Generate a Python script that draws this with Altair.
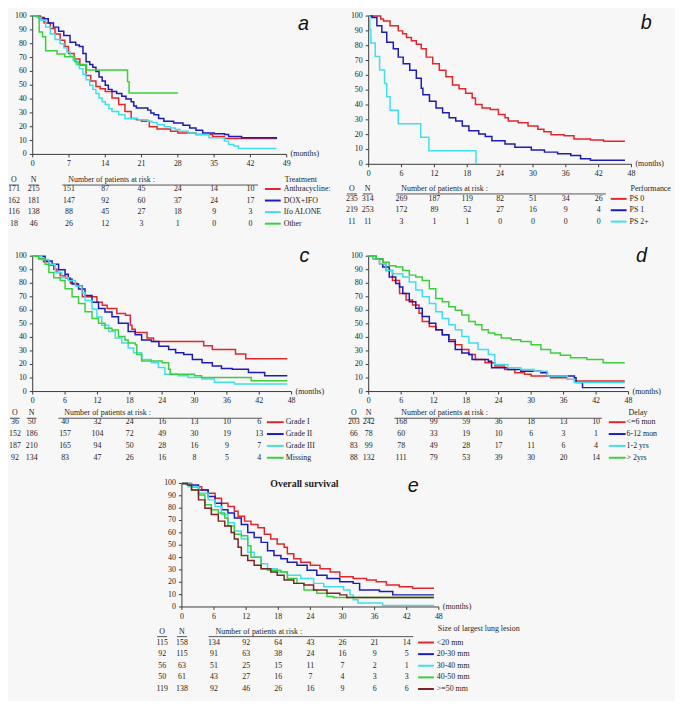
import altair as alt
import pandas as pd

BG = "#f7f7f7"
TXT = "#1e1e1e"
AX = "#3a3a3a"
RED = "#e3262b"
BLUE = "#1c1cb4"
CYAN = "#3fe0ee"
GREEN = "#3ccf3c"
BROWN = "#7a2424"
SERIF = "Liberation Serif"
SANS = "Liberation Sans"

# ---------------- panel a : Treatment ----------------
A_LABELS = ["Anthracycline:", "DOX+IFO", "Ifo ALONE", "Other"]
A_O = [171, 162, 116, 18]
A_N = [215, 181, 138, 46]
A_RISK_T = [7, 14, 21, 28, 35, 42]
A_RISK = [[151, 87, 45, 24, 14, 10],
          [147, 92, 60, 37, 24, 17],
          [88, 45, 27, 18, 9, 3],
          [26, 12, 3, 1, 0, 0]]
A_T_ANTH = [0, 1.5, 2.2, 3.4, 4.3, 5.3, 6.2, 6.9, 8, 9.1, 10.3, 11.2, 12.2, 13, 14, 15.3, 16.6, 17.8, 19, 20, 21, 22.5, 24, 26.6, 28, 31.5, 34.7, 37, 47]
A_S_ANTH = [100, 98, 95, 91, 87, 82.5, 78, 73, 69, 64.6, 57, 53, 49, 47.5, 45.5, 40.7, 36, 31, 26, 25, 24, 20, 18.4, 16.7, 15.5, 14.4, 13, 11.5, 11.2]
A_T_DOX = [0, 1.2, 2.2, 3, 4, 5, 6, 7.2, 8.3, 9, 9.7, 10.3, 11, 11.6, 12.2, 12.8, 13.4, 14, 14.6, 15.3, 16.2, 17.2, 18, 19, 19.5, 20, 22.2, 22.8, 23.4, 24.3, 25.3, 27.2, 29, 30.3, 31.5, 32.8, 35, 37, 37.8, 40.3, 47]
A_S_DOX = [100, 99, 98, 95, 92, 89, 86, 81, 79, 78, 73, 67, 65, 63, 60, 56, 53, 50, 47, 45.5, 44, 42, 40, 38, 35, 33.5, 32, 30, 28.7, 26, 24, 22.7, 21, 19, 17.5, 15.5, 15, 14.4, 13, 12, 11.2]
A_T_IFO = [0, 0.8, 1.6, 2.5, 3.4, 4.3, 5.3, 6, 6.6, 7.2, 7.8, 8.4, 9, 9.7, 10.3, 11, 11.6, 12.2, 12.8, 13.4, 14, 14.7, 15.3, 16.6, 17.8, 20.3, 22.2, 23, 24, 25.4, 26.6, 27.5, 28.4, 30, 31.5, 34, 37, 37.8, 38.8, 39.7, 47]
A_S_IFO = [100, 99, 97, 92, 87, 83, 80, 77, 74, 71, 68, 65, 62, 58, 54, 50, 47, 44, 40.7, 38, 36, 33, 31, 28.7, 26, 25, 24, 23, 21.5, 20, 19, 18, 16.7, 15.5, 14.4, 12, 9.6, 7.2, 6, 4.3, 4.3]
A_T_OTH = [0, 1.25, 1.9, 2.5, 4.7, 6.2, 8.1, 8.75, 10.4, 18.3, 18.6, 28]
A_S_OTH = [100, 88.5, 85, 75, 72.5, 70.6, 67, 65, 61, 52.6, 44.3, 44.3]

# ---------------- panel b : Performance ----------------
B_LABELS = ["PS 0", "PS 1", "PS 2+"]
B_O = [235, 219, 11]
B_N = [314, 253, 11]
B_RISK_T = [6, 12, 18, 24, 30, 36, 42]
B_RISK = [[269, 187, 119, 82, 51, 34, 26],
          [172, 89, 52, 27, 16, 9, 4],
          [3, 1, 1, 0, 0, 0, 0]]
B_T_PS0 = [0, 1.2, 2.2, 2.7, 3.9, 5.4, 6.2, 6.9, 7.8, 8.7, 9.6, 10.5, 11.7, 12.9, 14.1, 15.3, 16.5, 17.7, 18.9, 19.5, 20.7, 22.2, 23.7, 24.9, 25.5, 27.3, 29.1, 30.9, 32, 33.3, 35.7, 37.5, 40.5, 42.9, 46.8]
B_S_PS0 = [100, 100, 98, 96.7, 93.4, 90, 88, 85.6, 83.4, 81, 77.9, 72.3, 67.9, 63.5, 59, 53.5, 50.9, 48, 44.7, 40.3, 38, 37, 33.6, 31.4, 29.2, 28, 25.9, 23.7, 22, 19.9, 19.2, 17, 16.4, 15.5, 15.5]
B_T_PS1 = [0, 0.6, 1.5, 2.4, 3.3, 4.5, 5.4, 6.3, 7.5, 8.7, 9.6, 9.9, 11.1, 12.3, 13.5, 14.7, 15.9, 17.1, 18.3, 20.1, 21.3, 22.5, 24.9, 26.7, 29.7, 32.1, 34.5, 36.9, 38.7, 40.5, 46.8]
B_S_PS1 = [100, 99, 93.4, 89, 82.3, 77.9, 72.3, 67.9, 63.5, 58, 51.3, 46.9, 42.5, 38, 34.7, 31.4, 29.2, 25.9, 22.6, 20.4, 18.8, 15.9, 13.7, 11.5, 9.7, 8.2, 7.1, 6, 3.8, 2.7, 2.7]
B_T_PS2 = [0, 0.2, 0.4, 1.2, 2.0, 2.9, 3.3, 3.9, 5.4, 9.5, 11.0, 19.6]
B_S_PS2 = [100, 90.9, 81.8, 72.7, 63.6, 54.5, 45.5, 36.4, 27.3, 18.2, 9.1, 0]

# ---------------- panel c : Grade ----------------
C_LABELS = ["Grade I", "Grade II", "Grade III", "Missing"]
C_O = [36, 152, 187, 92]
C_N = [50, 186, 210, 134]
C_RISK_T = [6, 12, 18, 24, 30, 36, 42]
C_RISK = [[40, 32, 24, 16, 13, 10, 6],
          [157, 104, 72, 49, 30, 19, 13],
          [165, 94, 50, 28, 16, 9, 7],
          [83, 47, 26, 16, 8, 5, 4]]
C_T_G1 = [0, 1.1, 2.0, 3.0, 3.9, 4.5, 5.1, 6.1, 7.0, 8.2, 9.2, 11.9, 12.9, 13.8, 15.6, 17.2, 18.1, 18.4, 19.0, 21.2, 22.4, 31.7, 33.3, 37.6, 39.5, 47.2]
C_S_G1 = [100, 98.3, 95.9, 93.5, 90.3, 88, 85.5, 83.8, 80, 78.2, 70, 66, 63.7, 61.3, 57.6, 56.4, 49, 46, 43.6, 39.5, 37, 33.9, 31, 27.8, 24.2, 24.2]
C_T_G2 = [0, 1.1, 2.3, 3.6, 4.8, 6, 6.6, 7.3, 8.5, 9.7, 11, 12.2, 13.4, 14.7, 15.9, 17.7, 19, 20.2, 22, 23.4, 25.2, 26.5, 28, 29.6, 31.4, 33.3, 35, 37, 40, 43, 47.2]
C_S_G2 = [100, 100, 96.4, 94, 90, 86.7, 83, 79.4, 75.8, 71, 66, 61.3, 58.8, 55.2, 50.4, 44.3, 42, 38, 37, 33.4, 31, 28.6, 27.4, 23.7, 21.3, 18.9, 17, 16.5, 14, 11.6, 11.6]
C_T_G3 = [0, 1.1, 1.7, 3, 4.2, 5.4, 6.6, 7.9, 9.1, 9.7, 11, 11.9, 12.8, 14.1, 15.3, 16.5, 17.7, 18.7, 20.2, 22, 23.3, 24.5, 27, 28.8, 31.4, 33.7, 37.4, 47.2]
C_S_G3 = [100, 100, 97.6, 94, 88, 84, 82, 78, 73, 67.3, 61, 55, 49, 44.3, 39.5, 35.8, 32.2, 28.6, 23.7, 21.3, 17.7, 12.8, 11.6, 10.4, 9.2, 6.8, 5.6, 5.6]
C_T_MIS = [0, 1.1, 2.3, 3, 3.9, 5.1, 6, 7.3, 8.5, 9.7, 11, 12.2, 13.4, 14.7, 15.9, 17.1, 17.7, 19, 19.3, 20.2, 24, 25.2, 25.5, 30, 31.3, 40.2, 40.5, 47.2]
C_S_MIS = [100, 98, 94, 88, 84, 82, 76, 70, 65, 59, 54, 50.4, 46.7, 45.5, 40.7, 38, 35.8, 34.6, 27.4, 22.5, 21.3, 16.5, 12.8, 11.6, 10.4, 10.4, 8, 8]

# ---------------- panel d : Delay ----------------
D_LABELS = ["<=6 mon", "6-12 mon", "1-2 yrs", "> 2yrs"]
D_O = [203, 66, 83, 88]
D_N = [242, 78, 99, 132]
D_RISK_T = [6, 12, 18, 24, 30, 36, 42]
D_RISK = [[168, 99, 59, 36, 18, 13, 10],
          [60, 33, 19, 10, 6, 3, 1],
          [78, 49, 28, 17, 11, 6, 4],
          [111, 79, 53, 39, 30, 20, 14]]
D_T_D6 = [0, 0.8, 2, 3.2, 4.4, 5.7, 6.9, 8.1, 9.3, 9.9, 11.2, 12.4, 13.6, 14.8, 16, 17.2, 18.5, 19.7, 21.5, 23.3, 25.1, 27, 28.8, 30, 33.6, 36.7, 38, 47.3]
D_S_D6 = [100, 98, 94.4, 89.5, 82, 72.4, 67.6, 64, 57.8, 51.7, 48, 45.6, 42, 38.3, 34.6, 31, 27.3, 23.7, 21.2, 18.8, 16.3, 13.9, 12.7, 11.5, 10.2, 9, 7.8, 7.8]
D_T_D12 = [0, 0.2, 1.4, 2.6, 3.8, 5, 5.7, 6.3, 7.5, 8.7, 9.9, 11.2, 12.4, 13.6, 14.8, 16, 17.2, 18.5, 19.1, 22.1, 22.7, 25.7, 28.1, 31.8, 33, 38, 38.3, 39.5, 47.3]
D_S_D12 = [100, 100, 98, 92, 84.6, 79.8, 77.3, 72.4, 66.3, 61.5, 55.4, 50.5, 45.6, 42, 37, 31, 28.5, 27.3, 23.7, 22.4, 17.6, 16.3, 15, 13.9, 11.5, 10.2, 6.6, 2.9, 2.9]
D_T_Y12 = [0, 0.8, 2, 3.2, 4.4, 6.3, 7.5, 8.7, 9.9, 11.2, 12.4, 13.6, 14.8, 16, 17.2, 18.5, 20.2, 22.1, 23.3, 25.7, 28.1, 30.6, 33, 36.7, 38, 47.3]
D_S_Y12 = [100, 98, 94.4, 89.5, 87, 84.6, 81, 75, 70, 65, 59, 54, 49.3, 45.6, 40.7, 35.8, 31, 27.3, 20, 17.6, 16.3, 15, 11.5, 9, 6.6, 6.6]
D_T_Y2 = [0, 1.4, 2.6, 3.8, 5, 6.3, 7.5, 8.7, 9.9, 11.2, 12.4, 13.6, 14.8, 16, 17.2, 18.5, 19.7, 20.9, 22.1, 23.3, 24.5, 26.3, 28.1, 30, 31.8, 33.6, 35.4, 37.3, 40.3, 43.3, 47.3]
D_S_Y2 = [100, 98, 95.6, 93, 92, 89.5, 86, 84.6, 82, 76, 68.8, 66.3, 62.7, 60, 56.6, 51.7, 49.3, 45.6, 43.2, 42, 39.5, 38.3, 37, 34.6, 31, 28.5, 26.8, 24.9, 23.7, 21.2, 21.2]

# ---------------- panel e : Size of largest lung lesion ----------------
E_LABELS = ["<20 mm", "20-30 mm", "30-40 mm", "40-50 mm", ">=50 mm"]
E_O = [115, 92, 56, 50, 119]
E_N = [158, 115, 63, 61, 138]
E_RISK_T = [6, 12, 18, 24, 30, 36, 42]
E_RISK = [[134, 92, 64, 43, 26, 21, 14],
          [91, 63, 38, 24, 16, 9, 5],
          [51, 25, 15, 11, 7, 2, 1],
          [43, 27, 16, 7, 4, 3, 3],
          [92, 46, 26, 16, 9, 6, 6]]
E_T_20 = [0, 1.8, 3.7, 4.9, 6.2, 7.4, 8.6, 9.8, 10.5, 11.7, 12.9, 14.2, 15.4, 16.6, 17.8, 19.1, 19.7, 20.9, 22.2, 24, 25.8, 27.7, 29.5, 32, 34.5, 36.3, 38.2, 40.6, 43.1, 47.1]
E_S_20 = [100, 97.3, 94.7, 92, 88, 84, 81.4, 77.5, 73.5, 69.5, 66.8, 64.2, 58.9, 55, 51, 48.3, 43, 39, 36.3, 33.7, 31, 28.4, 24.4, 23, 21.8, 20.4, 17.8, 16.4, 15.1, 15.1]
E_T_30 = [0, 1.2, 3.1, 4.9, 6.2, 7.4, 8.6, 9.8, 11.1, 12.3, 13.5, 14.8, 16, 17.2, 18.5, 19.7, 21.5, 23.4, 25.2, 27.1, 29.5, 32, 33.2, 36.9, 39.4, 47.1]
E_S_30 = [100, 98.7, 94.7, 89.4, 84, 78.8, 76, 72, 66.8, 60.2, 56.2, 52.3, 45.6, 41.6, 39, 36.3, 33.7, 29.7, 25.7, 23, 20.4, 19.1, 13.8, 12.5, 9.8, 9.8]
E_T_40 = [0, 1.2, 3.1, 4.9, 6.2, 7.4, 8.6, 9.8, 11.1, 12.3, 13.5, 14.8, 16, 17.8, 19.7, 22.2, 24.6, 26.5, 30.2, 31.4, 32, 32.9, 37.5, 47.1]
E_S_40 = [100, 97.3, 92, 86.7, 81.4, 74.8, 68.2, 61.5, 55, 44.3, 40.3, 35, 31, 28.4, 25.7, 23, 19.1, 16.4, 13.8, 9.8, 5.8, 3.2, 1.3, 1.3]
E_T_50 = [0, 1.8, 3.1, 4.3, 5.5, 6.8, 8, 8.6, 9.8, 11.1, 12.3, 12.9, 14.8, 16, 18.5, 19.7, 21.5, 22.8, 25.2, 27.1, 28.3, 47.1]
E_S_50 = [100, 94.7, 90.7, 82.8, 78.8, 76, 72, 65.5, 58.9, 57.6, 49.6, 40.3, 31, 29.7, 28.4, 23, 19.1, 13.8, 11.1, 8.5, 7.7, 7.7]
E_T_BIG = [0, 1, 1.8, 3.1, 4.3, 5.5, 6.8, 8, 9.2, 9.8, 10.5, 11.1, 12.3, 13.5, 14.8, 16.6, 17.8, 19.1, 20.9, 22.8, 24.6, 27.1, 29.5, 30.8, 47.1]
E_S_BIG = [100, 98.7, 94.7, 86.7, 80, 74.8, 69.5, 65.5, 60.2, 55, 48.3, 41.6, 37.7, 33.7, 31, 28.4, 25.7, 21.8, 19.1, 17.8, 13.8, 11.1, 9.8, 7.7, 7.7]

Y_TICKS = list(range(0, 101, 10))


def ftext(txt, x, y, size=8, align="left", weight="normal", style="normal",
          font=SERIF, color=TXT, baseline="middle"):
    return alt.Chart(pd.DataFrame({"txt": [txt]})).mark_text(
        align=align, baseline=baseline, font=font, fontSize=size,
        fontWeight=weight, fontStyle=style, color=color
    ).encode(text="txt:N", x=alt.value(x), y=alt.value(y))


def hrule(x1, x2, y, color="#555555", width=1):
    return alt.Chart(pd.DataFrame({"k": [0]})).mark_rule(
        color=color, strokeWidth=width
    ).encode(x=alt.value(x1), x2=alt.value(x2), y=alt.value(y))


def axis_layers(p, xsc, ysc, sh):
    """Axis line, ticks and tick labels, placed through the panel's own scales."""
    W, H = p["W"], p["H"]
    px = 100.0 / H          # survival units per pixel
    xt = p["xticks"]
    nx = alt.X("t:Q", scale=xsc, axis=None)
    ny = alt.Y("v:Q", scale=ysc, axis=None)
    out = []
    out.append(alt.Chart(pd.DataFrame({"v": [0]})).mark_rule(color=AX, strokeWidth=1).encode(
        x=alt.value(sh), x2=alt.value(sh + W), y=ny))
    out.append(alt.Chart(pd.DataFrame({"t": [0, 0], "v": [0, 100]})).mark_line(
        color=AX, strokeWidth=1).encode(x=nx, y=ny))
    tk = pd.DataFrame({"t": [t for t in xt for _ in (0, 1)],
                       "v": [v for _ in xt for v in (0, -3 * px)]})
    out.append(alt.Chart(tk).mark_line(color=AX, strokeWidth=1).encode(
        x=nx, y=ny, detail="t:N"))
    xl = pd.DataFrame({"t": xt, "v": [-10 * px] * len(xt), "lab": [str(v) for v in xt]})
    out.append(alt.Chart(xl).mark_text(font=SERIF, fontSize=8, color=TXT, baseline="middle",
                                       align="center").encode(x=nx, y=ny, text="lab:N"))
    yl = pd.DataFrame({"v": Y_TICKS, "lab": [str(v) for v in Y_TICKS]})
    out.append(alt.Chart(yl).mark_rule(color=AX, strokeWidth=1).encode(
        x=alt.value(sh - 3), x2=alt.value(sh), y=ny))
    out.append(alt.Chart(yl).mark_text(font=SERIF, fontSize=8, color=TXT, baseline="middle",
                                       align="right").encode(x=alt.value(sh - 6), y=ny, text="lab:N"))
    return out


def make_panel(p):
    W, H = p["W"], p["H"]
    sh = p.get("shift", 0)          # left shift of the plotting frame inside the cell
    xsc = alt.Scale(domain=[0, p["xmax"]], range=[sh, sh + W], nice=False, zero=False)
    ysc = alt.Scale(domain=[0, 100], nice=False)
    layers = axis_layers(p, xsc, ysc, sh)
    for ts, ss, col in p["curves"]:
        df = pd.DataFrame({"t": ts, "v": ss})
        layers.append(alt.Chart(df).mark_line(interpolate="step-after", color=col,
                                              strokeWidth=1.5).encode(
            x=alt.X("t:Q", scale=xsc, axis=None), y=alt.Y("v:Q", scale=ysc, axis=None)))

    labels = p["labels"]
    n = len(labels)
    rowv = [-(p["row0"] + p["step"] * r) * 100.0 / H for r in range(n)]
    crow = []
    for r in range(n):
        for t, c in zip(p["risk_t"], p["risk"][r]):
            crow.append({"v": rowv[r], "t": t, "c": str(c)})
    cdf = pd.DataFrame(crow)
    tdf = pd.DataFrame({"v": rowv, "lab": labels, "col": p["colors"],
                        "O": [str(v) for v in p["O"]], "N": [str(v) for v in p["N"]]})
    ry = alt.Y("v:Q", scale=ysc, axis=None)
    tstyle = dict(font=SERIF, fontSize=8, color=TXT, baseline="middle")
    layers.append(alt.Chart(cdf).mark_text(align="center", **tstyle).encode(
        x=alt.X("t:Q", scale=xsc, axis=None), y=ry, text="c:N"))
    layers.append(alt.Chart(tdf).mark_text(align="center", **tstyle).encode(
        x=alt.value(sh + p["ox"]), y=ry, text="O:N"))
    layers.append(alt.Chart(tdf).mark_text(align="center", **tstyle).encode(
        x=alt.value(sh + p["nx"]), y=ry, text="N:N"))
    layers.append(alt.Chart(tdf).mark_rule(strokeWidth=2).encode(
        x=alt.value(sh + p["leg"][0]), x2=alt.value(sh + p["leg"][1]), y=ry,
        color=alt.Color("col:N", scale=None)))
    layers.append(alt.Chart(tdf).mark_text(align="left", **tstyle).encode(
        x=alt.value(sh + p["lab"]), y=ry, text="lab:N"))

    hy = H + p["head"]
    layers += [
        ftext("(months)", sh + W + 4, H),
        ftext("O", sh + p["ox"], hy, align="center"),
        ftext("N", sh + p["nx"], hy, align="center"),
        hrule(sh + p["ox"] - 5, sh + p["ox"] + 5, hy + 5),
        hrule(sh + p["nx"] - 5, sh + p["nx"] + 5, hy + 5),
        ftext("Number of patients at risk :", sh + p["num"], hy),
        hrule(sh + p["ul"][0], sh + p["ul"][1], hy + 5),
        ftext(p["letter"], sh + p["letter_xy"][0], p["letter_xy"][1], size=20,
              font=SANS, style="italic", align="center", color="#111111"),
    ]
    if p.get("title"):
        layers.append(ftext(p["title"], sh + p["title_x"], H + p["head"] + p.get("title_dy", 0)))
    if p.get("main"):
        layers.append(ftext(p["main"], sh + p["main_xy"][0], p["main_xy"][1], size=10,
                            weight="bold", align="center"))
    return alt.layer(*layers).properties(width=p.get("cellW", W), height=H)


T48 = list(range(0, 49, 6))

pa = make_panel(dict(
    W=257, H=140, xmax=49, xticks=list(range(0, 50, 7)), risk_t=A_RISK_T, risk=A_RISK,
    labels=A_LABELS, O=A_O, N=A_N, colors=[RED, BLUE, CYAN, GREEN],
    curves=[(A_T_ANTH, A_S_ANTH, RED), (A_T_DOX, A_S_DOX, BLUE),
            (A_T_IFO, A_S_IFO, CYAN), (A_T_OTH, A_S_OTH, GREEN)],
    ox=-19, nx=1, num=36, ul=(30, 228), leg=(235, 251), lab=254,
    title="Treatment", title_x=255, head=26, row0=35, step=11.7,
    letter="a", letter_xy=(274, 8)))

pb = make_panel(dict(
    W=266, H=150, xmax=48, xticks=T48, risk_t=B_RISK_T, risk=B_RISK,
    labels=B_LABELS, O=B_O, N=B_N, colors=[RED, BLUE, CYAN],
    curves=[(B_T_PS0, B_S_PS0, RED), (B_T_PS1, B_S_PS1, BLUE), (B_T_PS2, B_S_PS2, CYAN)],
    ox=-17, nx=-1, num=33, ul=(28, 240), leg=(245, 261), lab=264,
    title="Performance", title_x=265, head=25, row0=35, step=11.5,
    letter="b", letter_xy=(281, 7)))

pc = make_panel(dict(
    W=262, H=137, xmax=48, xticks=T48, risk_t=C_RISK_T, risk=C_RISK,
    labels=C_LABELS, O=C_O, N=C_N, colors=[RED, BLUE, CYAN, GREEN],
    curves=[(C_T_G1, C_S_G1, RED), (C_T_G2, C_S_G2, BLUE),
            (C_T_G3, C_S_G3, CYAN), (C_T_MIS, C_S_MIS, GREEN)],
    ox=-18, nx=-1, num=32, ul=(26, 232), leg=(237, 254), lab=256,
    head=22, row0=31, step=12, letter="c", letter_xy=(275, 0)))

pd_ = make_panel(dict(
    W=263, H=137, xmax=48, xticks=T48, risk_t=D_RISK_T, risk=D_RISK,
    labels=D_LABELS, O=D_O, N=D_N, colors=[RED, BLUE, CYAN, GREEN],
    curves=[(D_T_D6, D_S_D6, RED), (D_T_D12, D_S_D12, BLUE),
            (D_T_Y12, D_S_Y12, CYAN), (D_T_Y2, D_S_Y2, GREEN)],
    ox=-15, nx=0, num=33, ul=(26, 236), leg=(243, 260), lab=261,
    title="Delay", title_x=263, head=22, row0=31, step=12,
    letter="d", letter_xy=(276, 0)))

pe = make_panel(dict(
    W=260, H=125, xmax=48, xticks=T48, risk_t=E_RISK_T, risk=E_RISK,
    labels=E_LABELS, O=E_O, N=E_N, colors=[RED, BLUE, CYAN, GREEN, BROWN],
    curves=[(E_T_20, E_S_20, RED), (E_T_30, E_S_30, BLUE), (E_T_40, E_S_40, CYAN),
            (E_T_50, E_S_50, GREEN), (E_T_BIG, E_S_BIG, BROWN)],
    ox=-20, nx=0, num=34, ul=(27, 234), leg=(239, 255), lab=258,
    title="Size of largest lung lesion", title_x=259, title_dy=-3, head=25, row0=36, step=11.75,
    letter="e", letter_xy=(234, 3), main="Overall survival", main_xy=(124, 1),
    shift=151, cellW=250))

chart = alt.ConcatChart(
    concat=[pa, pb, pc, pd_, pe],
    columns=2,
    spacing={"row": 93, "column": 78},
    bounds="flush",
    align="each",
).properties(
    padding={"left": 0, "top": 0, "right": 4, "bottom": 4}
).configure(
    background=BG
).configure_view(
    stroke=None
)

chart.save("out.html", embed_options={"renderer": "svg", "actions": False})
